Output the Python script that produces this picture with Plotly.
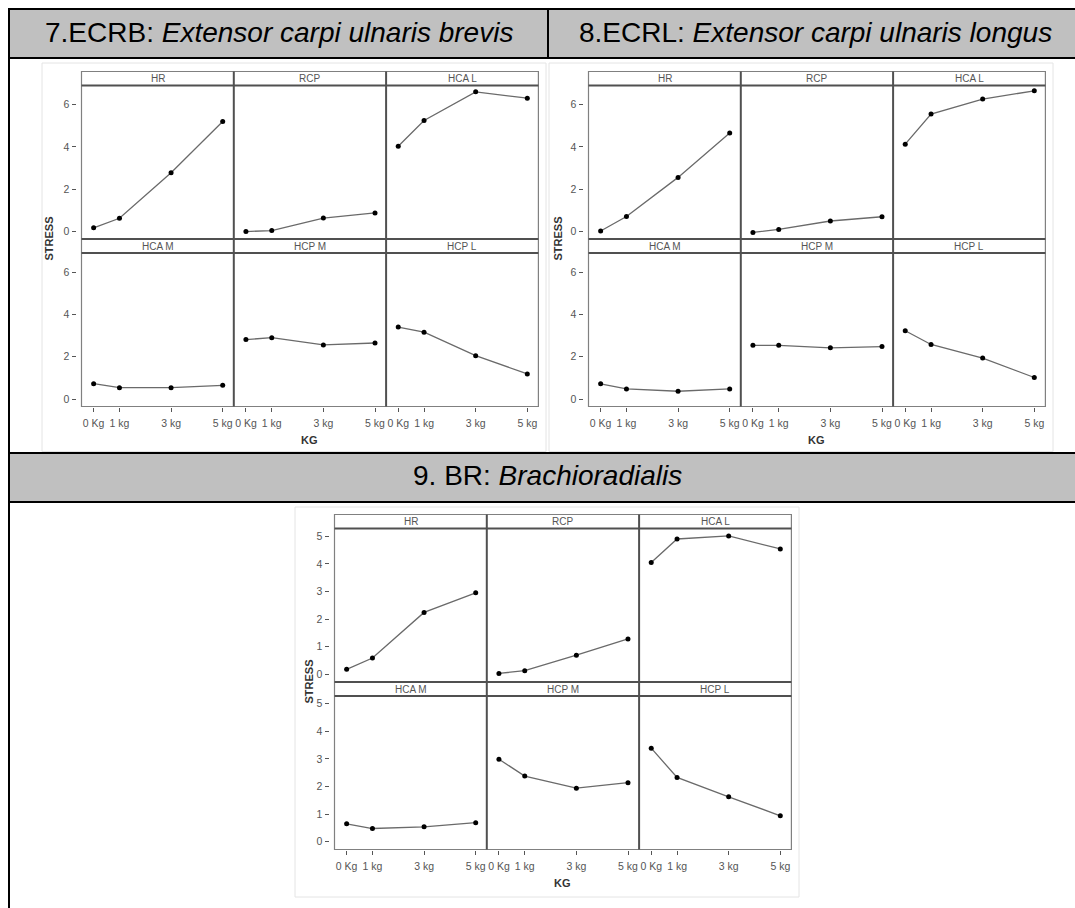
import plotly.graph_objects as go

# ---------------- data ----------------
KG_VALUES = [0, 1, 3, 5]
KG_LABELS = ["0 Kg", "1 kg", "3 kg", "5 kg"]
FACETS = ["HR", "RCP", "HCA L", "HCA M", "HCP M", "HCP L"]

# 7. ECRB
ECRB_HR = [0.18, 0.63, 2.78, 5.20]
ECRB_RCP = [0.00, 0.05, 0.64, 0.88]
ECRB_HCA_L = [4.03, 5.25, 6.60, 6.30]
ECRB_HCA_M = [0.73, 0.54, 0.54, 0.65]
ECRB_HCP_M = [2.81, 2.90, 2.56, 2.65]
ECRB_HCP_L = [3.40, 3.16, 2.05, 1.19]

# 8. ECRL
ECRL_HR = [0.03, 0.71, 2.56, 4.66]
ECRL_RCP = [-0.04, 0.10, 0.50, 0.70]
ECRL_HCA_L = [4.13, 5.55, 6.26, 6.65]
ECRL_HCA_M = [0.72, 0.48, 0.37, 0.48]
ECRL_HCP_M = [2.54, 2.54, 2.42, 2.48]
ECRL_HCP_L = [3.23, 2.58, 1.94, 1.02]

# 9. BR
BR_HR = [0.18, 0.59, 2.24, 2.95]
BR_RCP = [0.03, 0.13, 0.69, 1.28]
BR_HCA_L = [4.05, 4.90, 5.01, 4.54]
BR_HCA_M = [0.65, 0.48, 0.54, 0.69]
BR_HCP_M = [2.99, 2.38, 1.94, 2.14]
BR_HCP_L = [3.39, 2.33, 1.63, 0.94]

Y_TICKS_78 = [0, 2, 4, 6]
Y_TICKS_9 = [0, 1, 2, 3, 4, 5]

TITLE_7 = ("7.ECRB: ", "Extensor carpi ulnaris brevis")
TITLE_8 = ("8.ECRL: ", "Extensor carpi ulnaris longus")
TITLE_9 = ("9. BR: ", "Brachioradialis")

# ---------------- geometry helpers ----------------
W, H = 1075, 908
FONT = "Liberation Sans, Arial, sans-serif"


def px(x):
    return x / W


def py(y):
    return 1 - y / H


shapes = []
annotations = []


def rect(x0, y0, x1, y1, fill=None, line=None, lw=0, layer="below"):
    shapes.append(dict(
        type="rect", xref="paper", yref="paper",
        x0=px(x0), x1=px(x1), y0=py(y1), y1=py(y0),
        fillcolor=fill if fill else "rgba(0,0,0,0)",
        line=dict(color=line if line else "rgba(0,0,0,0)", width=lw),
        layer=layer))


def hline(x0, x1, y, color, lw, layer="above"):
    shapes.append(dict(type="line", xref="paper", yref="paper",
                       x0=px(x0), x1=px(x1), y0=py(y), y1=py(y),
                       line=dict(color=color, width=lw), layer=layer))


def vline(x, y0, y1, color, lw, layer="above"):
    shapes.append(dict(type="line", xref="paper", yref="paper",
                       x0=px(x), x1=px(x), y0=py(y0), y1=py(y1),
                       line=dict(color=color, width=lw), layer=layer))


# ---------------- table ----------------
GRAY = "#c0c0c0"
rect(10, 10, 1090, 57, fill=GRAY)
rect(10, 454, 1090, 501, fill=GRAY)
# plot image boxes
rect(42, 63, 546, 451.5, fill="white", line="#e4e4e4", lw=1)
rect(549, 63, 1053, 451.5, fill="white", line="#e4e4e4", lw=1)
rect(295, 507, 799, 897, fill="white", line="#e4e4e4", lw=1)
# black table rules
rect(8, 8, 1090, 10, fill="black")
rect(8, 8, 10, 920, fill="black")
rect(8, 57, 1090, 59, fill="black")
rect(547, 8, 549, 59, fill="black")
rect(8, 452, 1090, 454, fill="black")
rect(8, 501, 1090, 503, fill="black")


def header(x, y, t):
    annotations.append(dict(
        xref="paper", yref="paper", x=px(x), y=py(y),
        xanchor="center", yanchor="middle", showarrow=False,
        text=t[0] + "<i>" + t[1] + "</i>",
        font=dict(family=FONT, size=28, color="black")))


header(279, 32, TITLE_7)
header(815, 32, TITLE_8)
header(547, 476, TITLE_9)

# ---------------- facet panels ----------------
layout_axes = {}
traces = []
ax_counter = [0]

CW = 152.3
STRIP_H = 14
PANEL_H = 153.5
X_RANGE = [-0.47, 5.43]
LINE_DARK = "#505050"
LINE_OUT = "#808080"
TICK_FONT = dict(family=FONT, size=10.5, color="#555555")


def facet_plot(ox, oy, series, yrange, yticks, stress_off):
    L = ox + 39.5
    R = L + 3 * CW
    top = oy + 8.5
    row_tops = [oy + 22.5, oy + 190]
    strip_tops = [oy + 8.5, oy + 176]
    bottom = oy + 343.5
    for r in range(2):
        for c in range(3):
            ax_counter[0] += 1
            k = ax_counter[0]
            sfx = "" if k == 1 else str(k)
            x0 = L + c * CW
            x1 = x0 + CW
            yt = row_tops[r]
            yb = yt + PANEL_H
            layout_axes["xaxis" + sfx] = dict(
                domain=[px(x0), px(x1)], range=X_RANGE, anchor="y" + sfx,
                tickmode="array", tickvals=KG_VALUES, ticktext=KG_LABELS,
                showticklabels=(r == 1), ticks="outside" if r == 1 else "",
                ticklen=4, tickwidth=1, tickcolor="#555555", tickfont=TICK_FONT,
                ticklabelstandoff=3,
                showgrid=False, zeroline=False, showline=False, fixedrange=True)
            ydict = dict(
                domain=[py(yb), py(yt)], range=yrange,
                tickmode="array", tickvals=yticks,
                showticklabels=(c == 0), ticks="outside" if c == 0 else "",
                ticklen=4, tickwidth=1, tickcolor="#555555", tickfont=TICK_FONT,
                showgrid=False, zeroline=False, showline=False, fixedrange=True)
            if c == 0:
                ydict.update(anchor="free", position=px(L - 6))
            else:
                ydict.update(anchor="x" + sfx)
            layout_axes["yaxis" + sfx] = ydict
            vals = series[r * 3 + c]
            traces.append(go.Scatter(
                x=KG_VALUES, y=vals, xaxis="x" + sfx, yaxis="y" + sfx,
                mode="lines+markers", showlegend=False, hoverinfo="skip",
                line=dict(color="#6a6a6a", width=1.3),
                marker=dict(color="black", size=5)))
            # strip label
            st = strip_tops[r]
            annotations.append(dict(
                xref="paper", yref="paper", x=px((x0 + x1) / 2),
                y=py(st + STRIP_H / 2), xanchor="center", yanchor="middle",
                showarrow=False, text=FACETS[r * 3 + c],
                font=dict(family=FONT, size=10, color="#555555")))
    # borders
    rect(L, top, R, bottom, line=LINE_OUT, lw=1.2, layer="above")
    for c in (1, 2):
        vline(L + c * CW, top, bottom, LINE_DARK, 2)
    hline(L, R, strip_tops[0] + STRIP_H, LINE_DARK, 2)
    hline(L, R, strip_tops[1], LINE_DARK, 2)
    hline(L, R, strip_tops[1] + STRIP_H, LINE_DARK, 2)
    # axis titles
    annotations.append(dict(
        xref="paper", yref="paper", x=px((L + R) / 2), y=py(oy + 377),
        xanchor="center", yanchor="middle", showarrow=False, text="<b>KG</b>",
        font=dict(family=FONT, size=11, color="#333333")))
    annotations.append(dict(
        xref="paper", yref="paper", x=px(L - stress_off), y=py((top + bottom) / 2),
        xanchor="center", yanchor="middle", showarrow=False, text="<b>STRESS</b>",
        textangle=-90, font=dict(family=FONT, size=11, color="#333333")))


facet_plot(42, 63, [ECRB_HR, ECRB_RCP, ECRB_HCA_L, ECRB_HCA_M, ECRB_HCP_M, ECRB_HCP_L],
           [-0.35, 6.9], Y_TICKS_78, 33)
facet_plot(549, 63, [ECRL_HR, ECRL_RCP, ECRL_HCA_L, ECRL_HCA_M, ECRL_HCP_M, ECRL_HCP_L],
           [-0.35, 6.9], Y_TICKS_78, 31)
facet_plot(295, 506, [BR_HR, BR_RCP, BR_HCA_L, BR_HCA_M, BR_HCP_M, BR_HCP_L],
           [-0.28, 5.28], Y_TICKS_9, 26)

fig = go.Figure(data=traces)
fig.update_layout(
    width=W, height=H, margin=dict(l=0, r=0, t=0, b=0),
    paper_bgcolor="white", plot_bgcolor="rgba(0,0,0,0)",
    shapes=shapes, annotations=annotations, showlegend=False,
    font=dict(family=FONT),
    **layout_axes)

fig.write_html("out.html", config={"displayModeBar": False},
               post_script="document.body.style.margin='0px';")
